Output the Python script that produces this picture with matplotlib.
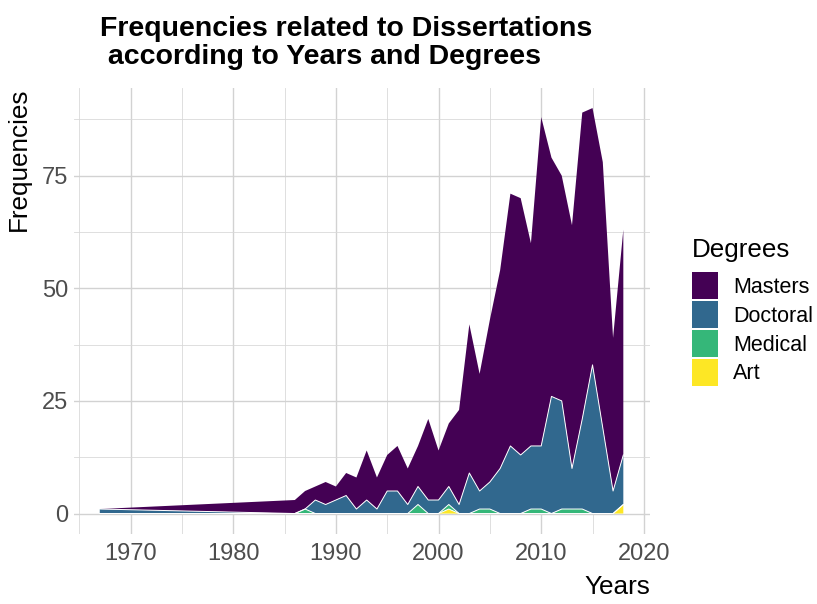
import matplotlib.pyplot as plt
import numpy as np
from matplotlib.patches import Patch
from matplotlib.ticker import MultipleLocator

plt.rcParams["font.family"] = ["Liberation Sans", "DejaVu Sans"]

# data
years = [1967, 1986, 1987, 1988, 1989, 1990, 1991, 1992, 1993, 1994,
         1995, 1996, 1997, 1998, 1999, 2000, 2001, 2002, 2003, 2004,
         2005, 2006, 2007, 2008, 2009, 2010, 2011, 2012, 2013, 2014,
         2015, 2016, 2017, 2018]
masters = [0, 3, 4, 3, 5, 3, 5, 7, 11, 7,
           8, 10, 8, 9, 18, 11, 14, 21, 33, 26,
           36, 44, 56, 57, 45, 73, 53, 50, 54, 68,
           57, 59, 34, 50]
doctoral = [1, 0, 0, 3, 2, 3, 4, 1, 3, 1,
            5, 5, 2, 4, 3, 3, 4, 2, 9, 4,
            6, 10, 15, 13, 14, 14, 26, 24, 9, 20,
            33, 19, 5, 11]
medical = [0, 0, 1, 0, 0, 0, 0, 0, 0, 0,
           0, 0, 0, 2, 0, 0, 1, 0, 0, 1,
           1, 0, 0, 0, 1, 1, 0, 1, 1, 1,
           0, 0, 0, 0]
art = [0, 0, 0, 0, 0, 0, 0, 0, 0, 0,
       0, 0, 0, 0, 0, 0, 1, 0, 0, 0,
       0, 0, 0, 0, 0, 0, 0, 0, 0, 0,
       0, 0, 0, 2]

degrees = ["Masters", "Doctoral", "Medical", "Art"]
colors = ["#440154", "#31688E", "#35B779", "#FDE725"]

fig = plt.figure(figsize=(8.17, 6.04), dpi=100)
ax = fig.add_axes([73.6 / 817, 1 - 533.8 / 604, 575.9 / 817, 446 / 604])

# stack from the bottom: Art, Medical, Doctoral, Masters
layers = [art, medical, doctoral, masters]
ax.stackplot(years, *layers, colors=colors[::-1], linewidth=0)
tops = np.cumsum(np.array(layers), axis=0)
for top in tops[:-1]:
    ax.plot(years, top, color="white", linewidth=0.7)

ax.set_xlim(1964.45, 2020.55)
ax.set_ylim(-4.5, 94.5)
ax.xaxis.set_major_locator(MultipleLocator(10))
ax.xaxis.set_minor_locator(MultipleLocator(5))
ax.yaxis.set_major_locator(MultipleLocator(25))
ax.yaxis.set_minor_locator(MultipleLocator(12.5))
ax.set_xticks([1970, 1980, 1990, 2000, 2010, 2020])
ax.set_yticks([0, 25, 50, 75])
ax.grid(which="major", color="#D2D2D2", linewidth=1.0)
ax.grid(which="minor", color="#D9D9D9", linewidth=0.6)
ax.set_axisbelow(True)
for s in ax.spines.values():
    s.set_visible(False)
ax.tick_params(which="both", length=0)
ax.tick_params(axis="x", pad=6.5, labelsize=17, labelcolor="#4D4D4D")
ax.tick_params(axis="y", pad=4.0, labelsize=17, labelcolor="#4D4D4D")

ax.set_xlabel("Years", fontsize=18.8, loc="right")
ax.xaxis.set_label_coords(1.002, -0.092)
ax.set_ylabel("Frequencies", fontsize=18.8, loc="top")
ax.yaxis.set_label_coords(-0.074, 1.0)

fig.text(100 / 817, 1 - 16 / 604,
         "Frequencies related to Dissertations\n according to Years and Degrees",
         fontsize=20.5, fontweight="bold", ha="left", va="top", linespacing=1.12)

# legend
fig.text(691.7 / 817, 1 - 256.7 / 604, "Degrees", fontsize=18.7,
         ha="left", va="baseline")
handles = [Patch(facecolor=c, edgecolor="none") for c in colors]
fig.legend(handles, degrees, loc="upper left",
           bbox_to_anchor=(691.7 / 817, 1 - 272 / 604),
           frameon=False, fontsize=15.5, borderpad=0, borderaxespad=0,
           handlelength=1.24, handleheight=1.58, labelspacing=0.07,
           handletextpad=0.68)

fig.savefig("out.png", dpi=100)
